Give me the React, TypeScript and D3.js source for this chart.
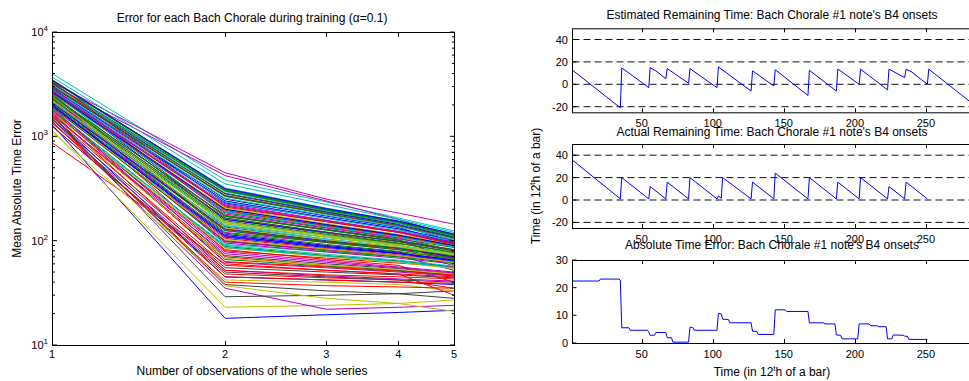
import React from "react";
import * as d3 from "d3";

// x positions of the left panel
const observations = [1, 2, 3, 4, 5];

// mean absolute time error of each chorale after 1..5 observations of the series
const choraleErrors: number[][] = [
  [2600, 190, 140, 112, 90], [2200, 150, 112, 92, 62], [1600, 70, 58, 52, 46], [4000, 381, 235, 165, 124],
  [3300, 448, 250, 184, 144], [2000, 110, 88, 76, 70], [2400, 160, 118, 95, 78], [1300, 18, 19.5, 20.5, 21.5],
  [2800, 170, 128, 104, 86], [870, 60, 52, 48, 45], [3200, 300, 195, 150, 100], [2500, 120, 96, 82, 69],
  [1150, 23, 24, 25, 27], [1900, 100, 82, 72, 52], [3000, 270, 185, 142, 108], [2100, 125, 96, 82, 68],
  [1700, 82, 66, 58, 40], [2700, 140, 108, 90, 76], [1400, 35, 22, 23, 24], [2300, 165, 120, 97, 80],
  [1600, 29, 30, 31, 33], [2900, 250, 172, 134, 92], [1800, 88, 72, 64, 56], [1250, 48, 44, 42, 35],
  [3400, 320, 205, 155, 115], [3100, 420, 240, 160, 110], [1500, 37, 28, 25, 21], [2200, 135, 102, 86, 71],
  [3300, 230, 165, 128, 96], [2600, 200, 142, 113, 90], [1900, 105, 84, 73, 63], [2400, 92, 78, 70, 64],
  [1750, 78, 64, 56, 50], [2800, 240, 165, 128, 74], [1450, 55, 50, 47, 44], [2000, 115, 90, 78, 58],
  [3000, 265, 180, 138, 106], [2300, 80, 68, 61, 56], [1700, 90, 74, 65, 57], [2700, 220, 155, 122, 95],
  [1100, 42, 40, 38, 33], [3500, 310, 200, 152, 113], [1550, 45, 42, 40, 38], [2900, 185, 134, 108, 88],
  [2150, 128, 98, 84, 70], [3700, 350, 222, 160, 120], [2050, 95, 78, 68, 60], [2500, 150, 112, 92, 58],
  [1850, 72, 60, 54, 48], [3200, 280, 188, 143, 97], [1650, 66, 57, 52, 47], [2600, 195, 138, 110, 88],
  [2250, 145, 108, 90, 74], [1350, 52, 46, 43, 41], [3100, 275, 183, 140, 104], [2450, 175, 128, 102, 66],
  [2750, 160, 120, 99, 82], [1950, 98, 80, 70, 61], [1450, 40, 37, 36, 35], [2900, 255, 175, 136, 103],
  [2350, 110, 88, 76, 66], [1700, 85, 70, 62, 54], [3050, 285, 190, 147, 109], [2100, 130, 100, 85, 70],
  [3400, 305, 198, 151, 114], [1550, 58, 52, 48, 30], [2550, 190, 136, 108, 87], [1900, 62, 55, 50, 46],
  [2650, 205, 146, 115, 92], [1250, 50, 45, 42, 40], [2850, 240, 166, 130, 100], [2300, 155, 115, 94, 77],
  [1800, 63, 56, 51, 47], [3150, 295, 193, 148, 111], [2450, 98, 82, 72, 63], [1600, 68, 58, 53, 48],
  [2700, 215, 152, 120, 94], [2000, 108, 86, 75, 64], [3250, 300, 196, 150, 112], [1350, 45, 42, 40, 39],
  [2150, 138, 104, 87, 72], [2950, 180, 132, 106, 80], [1950, 102, 83, 72, 62], [2350, 165, 121, 98, 80],
  [3450, 315, 203, 154, 116], [2550, 125, 98, 85, 72], [1700, 52, 47, 45, 43], [2800, 235, 163, 127, 99],
  [1600, 75, 62, 55, 49], [2200, 145, 108, 90, 74], [1500, 38, 33, 31, 28], [2650, 200, 143, 113, 90],
  [2050, 118, 92, 79, 67], [3350, 210, 152, 120, 92], [1850, 86, 71, 63, 55], [2750, 225, 157, 123, 96],
  [2400, 132, 102, 87, 73], [3000, 270, 182, 140, 106], [1950, 112, 88, 76, 65], [2450, 172, 126, 101, 82],
];

// old matlab color order
const lineColors = ["#0000ff", "#008000", "#ff0000", "#00bfbf", "#bf00bf", "#bfbf00", "#404040"];

const decadeTicks = [10, 100, 1000, 10000];

// chorale #1, B4 onsets: [time, value] vertices
const estimatedRemaining: [number, number][] = [
  [1, 13], [35, -21], [36, 14.5], [40, 11], [55, -3], [56, 15], [59, 12.5], [60, 12], [67, 5], [68, 14],
  [83, 1], [84, 14], [103, -3], [104, 15.5], [127, -6], [128, 12], [143, -1.5], [144, 13], [167, -10],
  [168, 12.5], [187, -6], [188, 13.5], [191, 11], [203, 0], [204, 13.5], [223, -5], [224, 13.5], [235, 6],
  [236, 13.5], [240, 11], [251, 0], [252, 13.5], [281, -15.5],
];
const actualRemaining: [number, number][] = [
  [1, 36], [35, 1], [36, 20], [55, 1], [56, 12], [67, 1], [68, 16], [83, 1], [84, 20], [103, 1], [104, 3.5],
  [106, 1.5], [107, 20], [127, 1], [128, 16], [143, 1], [144, 24], [167, 1], [168, 20], [187, 1], [188, 16],
  [203, 1], [204, 20], [223, 1], [224, 12], [235, 1], [236, 16], [251, 1],
];
const absoluteError: [number, number][] = [
  [1, 22.4], [20, 22.4], [21, 23.1], [34, 23.1], [35, 22.7], [36, 5.5], [41, 5.5], [42, 4.6], [54, 4.6],
  [55, 4.0], [56, 2.8], [59, 2.8], [60, 3.8], [67, 3.8], [68, 1.9], [71, 1.9], [72, 0.3], [83, 0.3],
  [84, 5.7], [86, 5.6], [87, 4.6], [103, 4.6], [104, 10.7], [106, 10.5], [107, 8.6], [111, 8.5], [112, 7.3],
  [127, 7.3], [128, 4.2], [131, 4.2], [132, 3.1], [143, 3.1], [144, 12], [151, 12], [152, 11.4], [167, 11.4],
  [168, 7.3], [178, 7.3], [179, 6.9], [186, 6.9], [187, 2.9], [190, 2.8], [191, 1.5], [202, 1.5], [203, 6.9],
  [210, 6.9], [211, 6.3], [216, 6.2], [217, 5.9], [222, 5.9], [223, 1.5], [226, 1.5], [227, 2.9], [234, 2.8],
  [235, 2.5], [237, 2.4], [238, 1.3], [251, 1.3],
];

const timeTicks = [50, 100, 150, 200, 250];
const remainingTicks = [-20, 0, 20, 40];
const errorTicks = [0, 10, 20, 30];

const FONT = "'Liberation Sans', Arial, sans-serif";

const xTime = d3.scaleLinear().domain([1, 281]).range([572, 970]);

function TracePanel({ title, titleY, top, bottom, yDomain, yTicks, points, guides }: any) {
  const y = d3.scaleLinear().domain(yDomain).range([bottom, top]);
  const trace = d3.line<[number, number]>().x((d) => xTime(d[0])).y((d) => y(d[1]))(points);
  const L = 572.5, R = 969.5;
  return (
    <g>
      <text x={772} y={titleY} textAnchor="middle" fontSize={12}>{title}</text>
      {guides &&
        yTicks.map((t: number) => (
          <line key={"g" + t} x1={L} x2={R} y1={y(t)} y2={y(t)} stroke="#111" strokeDasharray="7,4" />
        ))}
      <path d={trace || ""} fill="none" stroke="#0000ff" strokeWidth={1} />
      <rect x={L} y={top + 0.5} width={R + 5 - L} height={bottom - top} fill="none" stroke="#000" />
      {timeTicks.map((t) => (
        <g key={"x" + t}>
          <line x1={Math.round(xTime(t)) + 0.5} x2={Math.round(xTime(t)) + 0.5} y1={bottom} y2={bottom - 4} stroke="#000" />
          <line x1={Math.round(xTime(t)) + 0.5} x2={Math.round(xTime(t)) + 0.5} y1={top} y2={top + 4} stroke="#000" />
          <text x={xTime(t)} y={bottom + 15} textAnchor="middle">{t}</text>
        </g>
      ))}
      {yTicks.map((t: number) => (
        <g key={"y" + t}>
          <line x1={L} x2={L + 4} y1={y(t)} y2={y(t)} stroke="#000" />
          <text x={568} y={y(t) + 4} textAnchor="end">{t}</text>
        </g>
      ))}
    </g>
  );
}

export default function App() {
  const xL = d3.scaleLog().domain([1, 5]).range([52, 454]);
  const yL = d3.scaleLog().domain([10, 10000]).range([345, 32]);
  const lineL = d3.line<number>().x((_, i) => xL(observations[i])).y((d) => yL(d));
  const minorTicks = decadeTicks.slice(0, 3).flatMap((dec) => d3.range(2, 10).map((k) => k * dec));

  return (
    <svg width={969} height={381} style={{ position: "absolute", left: 0, top: 0, background: "#fff" }}
      fontFamily={FONT} fontSize={11} fill="#000">
      <rect width={969} height={381} fill="#fff" />

      {/* left: error per chorale */}
      <text x={252} y={22} textAnchor="middle" fontSize={12}>
        Error for each Bach Chorale during training (<tspan>α</tspan>=0.1)
      </text>
      {choraleErrors.map((row, i) => (
        <path key={i} d={lineL(row) || ""} fill="none" stroke={lineColors[i % 7]} strokeWidth={1} />
      ))}
      <rect x={52.5} y={32.5} width={402} height={313} fill="none" stroke="#000" />
      {minorTicks.map((t) => (
        <g key={"m" + t}>
          <line x1={52.5} x2={55} y1={yL(t)} y2={yL(t)} stroke="#000" />
          <line x1={454.5} x2={452} y1={yL(t)} y2={yL(t)} stroke="#000" />
        </g>
      ))}
      {decadeTicks.map((t) => (
        <g key={"d" + t}>
          <line x1={52.5} x2={57} y1={yL(t)} y2={yL(t)} stroke="#000" />
          <line x1={454.5} x2={450} y1={yL(t)} y2={yL(t)} stroke="#000" />
          <text x={48} y={yL(t) + 4} textAnchor="end">
            10<tspan fontSize={8} dy={-5}>{Math.log10(t)}</tspan>
          </text>
        </g>
      ))}
      {observations.map((o) => (
        <g key={"o" + o}>
          <line x1={Math.round(xL(o)) + 0.5} x2={Math.round(xL(o)) + 0.5} y1={345} y2={341} stroke="#000" />
          <line x1={Math.round(xL(o)) + 0.5} x2={Math.round(xL(o)) + 0.5} y1={33} y2={37} stroke="#000" />
          <text x={xL(o)} y={358} textAnchor="middle">{o}</text>
        </g>
      ))}
      <text x={252} y={375} textAnchor="middle" fontSize={12}>Number of observations of the whole series</text>
      <text transform="translate(20.5,188.5) rotate(-90)" textAnchor="middle" fontSize={12}>Mean Absolute Time Error</text>

      {/* right: chorale #1 traces */}
      <TracePanel title="Estimated Remaining Time: Bach Chorale #1 note's B4 onsets" titleY={19}
        top={28.3} bottom={112.3} yDomain={[-25, 50]} yTicks={remainingTicks} points={estimatedRemaining} guides />
      <TracePanel title="Actual Remaining Time: Bach Chorale #1 note's B4 onsets" titleY={135.5}
        top={144} bottom={228} yDomain={[-25, 50]} yTicks={remainingTicks} points={actualRemaining} guides />
      <TracePanel title="Absolute Time Error: Bach Chorale #1 note's B4 onsets" titleY={249}
        top={260} bottom={343} yDomain={[0, 30]} yTicks={errorTicks} points={absoluteError} guides={false} />
      <text x={772} y={376} textAnchor="middle" fontSize={12}>
        Time (in 12<tspan fontSize={8} dy={-5}>t</tspan><tspan dy={5}>h of a bar)</tspan>
      </text>
      <text transform="translate(540,186) rotate(-90)" textAnchor="middle" fontSize={12}>
        Time (in 12<tspan fontSize={8} dy={-5}>t</tspan><tspan dy={5}>h of a bar)</tspan>
      </text>
    </svg>
  );
}
